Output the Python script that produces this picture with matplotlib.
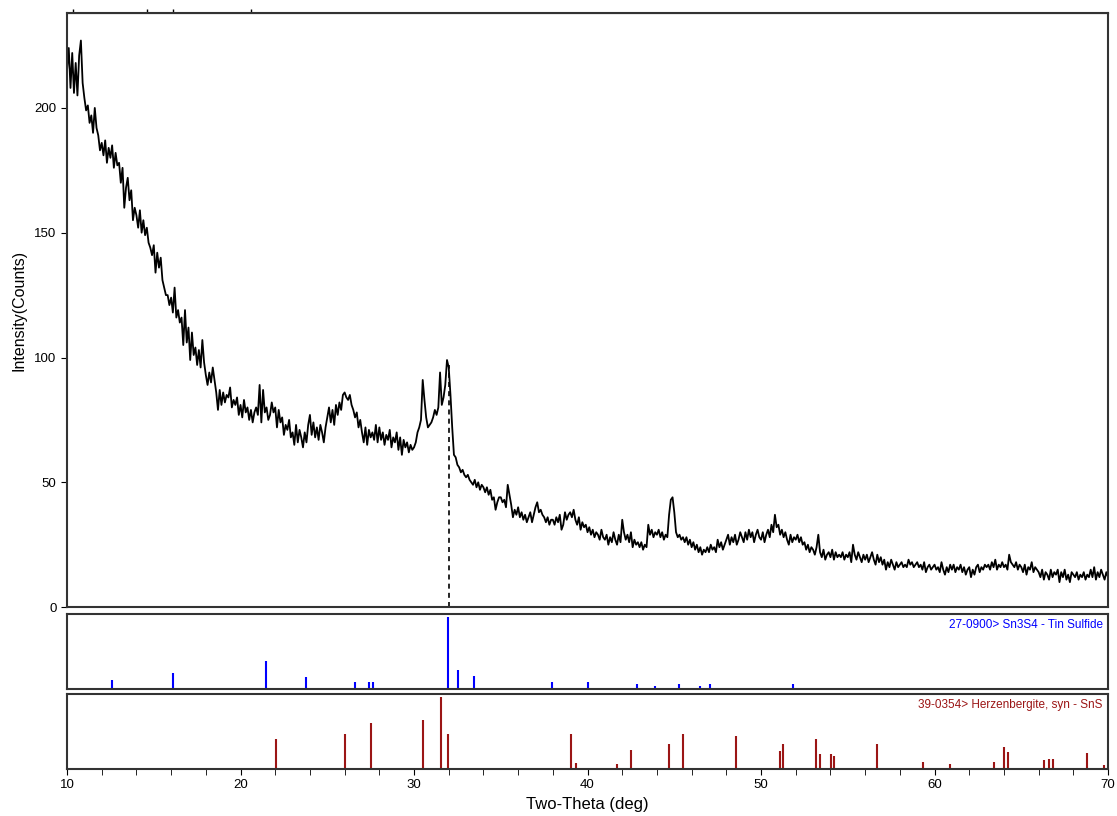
import numpy as np
import matplotlib
matplotlib.use("Agg")
import matplotlib.pyplot as plt

plt.rcParams["font.family"] = ["Liberation Sans", "DejaVu Sans"]

# measured pattern, 0.1 deg step from 10.0 to 70.0 (one row per degree)
two_theta_start, two_theta_step = 10.0, 0.1
counts = [
    215, 224, 208, 222, 206, 218, 205, 221, 227, 210,
    204, 199, 201, 194, 197, 190, 200, 192, 189, 183,
    186, 181, 187, 178, 184, 180, 185, 176, 182, 177,
    178, 170, 176, 160, 168, 172, 163, 167, 155, 160,
    157, 152, 159, 150, 155, 149, 152, 146, 144, 141,
    145, 134, 142, 136, 140, 131, 128, 125, 125, 121,
    124, 118, 128, 116, 119, 114, 116, 105, 119, 106,
    112, 99, 110, 101, 104, 97, 103, 96, 107, 98,
    93, 89, 94, 90, 96, 91, 86, 79, 87, 81,
    86, 82, 85, 84, 88, 80, 83, 81, 84, 77,
    81, 76, 83, 78, 80, 75, 79, 74, 78, 80,
    77, 89, 74, 87, 78, 80, 75, 77, 82, 78,
    80, 72, 79, 74, 76, 69, 73, 71, 75, 68,
    70, 65, 73, 66, 71, 68, 64, 70, 66, 73,
    77, 69, 74, 68, 72, 67, 73, 70, 66, 72,
    76, 80, 74, 79, 73, 81, 77, 82, 79, 85,
    86, 84, 83, 85, 81, 79, 76, 78, 72, 75,
    70, 66, 72, 65, 71, 68, 70, 67, 73, 66,
    72, 67, 70, 65, 69, 67, 71, 64, 68, 66,
    70, 63, 68, 61, 67, 64, 66, 62, 65, 63,
    64, 66, 70, 72, 75, 91, 83, 76, 72, 73,
    74, 76, 79, 77, 80, 94, 81, 84, 89, 99,
    96, 85, 72, 61, 60, 57, 56, 54, 55, 53,
    52, 53, 51, 50, 49, 51, 48, 50, 47, 49,
    48, 46, 48, 45, 47, 43, 44, 39, 42, 44,
    44, 42, 43, 40, 49, 45, 41, 36, 39, 37,
    40, 36, 38, 35, 37, 34, 36, 38, 34, 37,
    40, 42, 38, 39, 37, 36, 34, 36, 33, 35,
    35, 33, 36, 34, 37, 31, 33, 38, 35, 37,
    38, 36, 39, 35, 33, 36, 31, 34, 32, 33,
    30, 32, 29, 31, 28, 30, 29, 27, 31, 28,
    27, 29, 25, 28, 26, 30, 27, 25, 29, 26,
    35, 30, 27, 29, 26, 30, 24, 27, 25, 26,
    24, 26, 23, 25, 24, 33, 29, 31, 28, 30,
    29, 31, 28, 30, 27, 29, 28, 37, 43, 44,
    38, 30, 28, 29, 27, 28, 26, 28, 25, 27,
    24, 26, 23, 25, 22, 24, 21, 23, 22, 24,
    22, 25, 23, 24, 22, 27, 24, 26, 23, 25,
    27, 29, 25, 28, 26, 29, 25, 27, 30, 28,
    26, 30, 27, 31, 28, 30, 26, 29, 31, 28,
    27, 30, 26, 29, 31, 28, 33, 30, 37, 32,
    33, 29, 31, 28, 30, 27, 25, 29, 26, 28,
    27, 29, 26, 28, 25, 26, 23, 25, 22, 24,
    23, 21, 24, 29, 22, 20, 23, 19, 21, 22,
    20, 23, 19, 22, 20, 21, 20, 22, 19, 21,
    20, 22, 18, 25, 21, 19, 22, 20, 18, 21,
    19, 21, 18, 20, 22, 19, 17, 21, 18, 20,
    17, 19, 15, 18, 16, 19, 17, 15, 18, 16,
    17, 18, 16, 17, 16, 19, 17, 18, 16, 17,
    18, 16, 17, 15, 18, 14, 16, 17, 15, 16,
    17, 15, 16, 14, 18, 15, 13, 16, 14, 17,
    15, 17, 14, 16, 15, 17, 14, 16, 13, 15,
    16, 12, 15, 13, 16, 17, 14, 16, 15, 17,
    16, 17, 15, 18, 16, 19, 15, 17, 16, 18,
    16, 17, 15, 21, 18, 17, 16, 18, 15, 17,
    16, 14, 17, 13, 16, 15, 18, 14, 16, 15,
    14, 12, 15, 11, 14, 13, 11, 15, 12, 14,
    13, 15, 10, 14, 12, 15, 11, 13, 10, 14,
    13, 12, 14, 11, 13, 12, 14, 11, 13, 12,
    15, 12, 16, 11, 14, 12, 15, 13, 11, 14,
    12,
]

# marked peak (dashed line) and tiny top-axis markers
marker_pos, marker_height = 32.0, 97
top_marks = [10.35, 14.6, 16.1, 20.6]

# reference pattern 27-0900 Sn3S4
sn3s4_label = "27-0900> Sn3S4 - Tin Sulfide"
sn3s4_pos = [12.6, 16.08, 21.46, 23.75, 26.6, 27.4, 27.65, 31.98, 32.54, 33.44,
             37.94, 40.0, 42.85, 43.9, 45.29, 46.5, 47.07, 51.86]
sn3s4_int = [12, 22, 39, 16, 9, 10, 10, 100, 26, 18,
             10, 10, 6, 4, 6, 4, 7, 6]

# reference pattern 39-0354 SnS
sns_label = "39-0354> Herzenbergite, syn - SnS"
sns_pos = [22.02, 26.02, 27.5, 30.5, 31.57, 31.98, 39.02, 39.34, 41.7, 42.52,
           44.69, 45.51, 48.55, 51.07, 51.29, 53.18, 53.42, 54.06, 54.22, 56.66,
           59.36, 60.9, 63.42, 63.98, 64.26, 66.33, 66.6, 66.84, 68.81, 69.77]
sns_int = [41, 48, 64, 68, 100, 48, 48, 8, 7, 26,
           35, 48, 45, 25, 35, 41, 20, 20, 18, 35,
           10, 7, 10, 31, 23, 12, 14, 14, 22, 5]

x = two_theta_start + two_theta_step * np.arange(len(counts))

fig = plt.figure(figsize=(11.17, 8.16), dpi=100)
ax = fig.add_axes([0.060, 0.256, 0.932, 0.728])
ax_b = fig.add_axes([0.060, 0.156, 0.932, 0.092])
ax_r = fig.add_axes([0.060, 0.058, 0.932, 0.092])

frame = "#333333"

ax.plot(x, counts, color="black", lw=1.3)
ax.vlines(marker_pos, 0, marker_height, colors="black", lw=1.2,
          linestyles=(0, (3, 2.5)))
ax.set_xlim(10, 70)
ax.set_ylim(0, 238)
ax.set_yticks([0, 50, 100, 150, 200])
ax.set_xticks([])
ax.tick_params(axis="y", direction="out", length=4, labelsize=9.5)
ax.set_ylabel("Intensity(Counts)", fontsize=11.5, labelpad=6)
top = ax.secondary_xaxis("top")
top.set_xticks(top_marks)
top.set_xticklabels([])
top.tick_params(direction="out", length=3, width=1)

for a, pos, inten, col, lab in [(ax_b, sn3s4_pos, sn3s4_int, "#0000ff", sn3s4_label),
                                (ax_r, sns_pos, sns_int, "#9b1515", sns_label)]:
    a.vlines(pos, 0, inten, colors=col, lw=1.5)
    a.set_xlim(10, 70)
    a.set_ylim(0, 105)
    a.set_yticks([])
    a.text(0.995, 0.93, lab, transform=a.transAxes, ha="right", va="top",
           color=col, fontsize=8.5)

ax_b.set_xticks([])
ax_r.set_xticks(np.arange(10, 71, 10))
ax_r.set_xticks(np.arange(10, 71, 2), minor=True)
ax_r.tick_params(axis="x", which="both", direction="out", length=4, labelsize=9.5)
ax_r.set_xlabel("Two-Theta (deg)", fontsize=12, labelpad=4)

for a in (ax, ax_b, ax_r):
    for s in a.spines.values():
        s.set_color(frame)
        s.set_linewidth(1.5)

fig.savefig("out.png", dpi=100)
